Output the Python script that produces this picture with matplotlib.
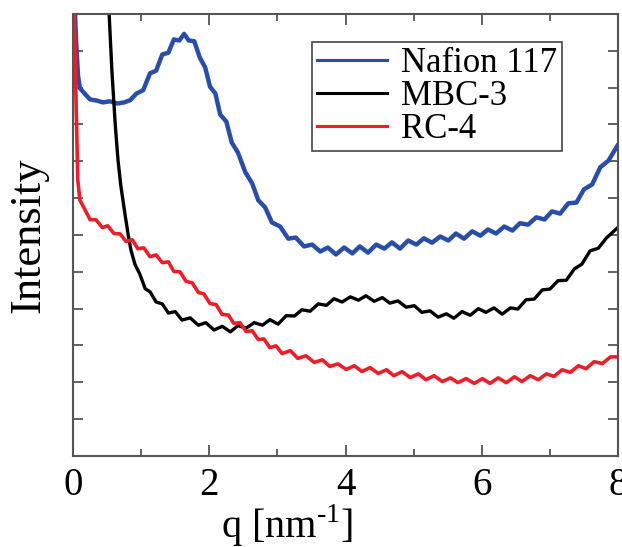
import numpy as np
import matplotlib
matplotlib.use("Agg")
import matplotlib.pyplot as plt
from matplotlib.ticker import MultipleLocator, NullFormatter

# SAXS profiles (arbitrary intensity units)
nafion_q = [0.02, 0.044, 0.073, 0.10, 0.18, 0.25, 0.35, 0.44, 0.54, 0.65, 0.75, 0.84, 0.93, 1.03,
            1.13, 1.22, 1.31, 1.40, 1.48, 1.56, 1.63, 1.70, 1.78, 1.86, 1.94, 2.01, 2.09, 2.16,
            2.25, 2.33, 2.42, 2.53, 2.63, 2.72, 2.82, 2.92, 3.04, 3.16, 3.27, 3.39, 3.51, 3.63,
            3.74, 3.86, 3.98, 4.10, 4.21, 4.33, 4.45, 4.57, 4.68, 4.80, 4.92, 5.04, 5.15, 5.27,
            5.39, 5.51, 5.62, 5.74, 5.86, 5.98, 6.09, 6.21, 6.33, 6.45, 6.56, 6.68, 6.80, 6.92,
            7.03, 7.15, 7.27, 7.39, 7.50, 7.62, 7.74, 7.86, 7.99]
nafion_i = [12.5, 11.3, 10.34, 9.99, 9.82, 9.68, 9.65, 9.60, 9.63, 9.57, 9.60, 9.66, 9.84, 9.93,
            10.39, 10.46, 10.90, 10.95, 11.31, 11.28, 11.46, 11.28, 11.26, 10.82, 10.55, 10.03,
            9.84, 9.27, 9.08, 8.51, 8.24, 7.70, 7.40, 6.94, 6.75, 6.34, 6.23, 5.90, 5.93, 5.69,
            5.74, 5.55, 5.66, 5.47, 5.66, 5.50, 5.69, 5.52, 5.74, 5.63, 5.80, 5.63, 5.85, 5.74,
            5.91, 5.79, 5.96, 5.85, 6.04, 5.90, 6.10, 5.98, 6.15, 6.04, 6.23, 6.12, 6.32, 6.28,
            6.48, 6.42, 6.64, 6.58, 6.86, 6.88, 7.24, 7.37, 7.84, 8.02, 8.42]

mbc_q = [0.51, 0.53, 0.57, 0.62, 0.66, 0.70, 0.76, 0.81, 0.85, 0.91, 0.98, 1.06, 1.13, 1.22,
         1.31, 1.40, 1.50, 1.60, 1.72, 1.84, 1.95, 2.07, 2.19, 2.31, 2.42, 2.54, 2.66, 2.78,
         2.89, 3.01, 3.13, 3.25, 3.36, 3.48, 3.60, 3.72, 3.83, 3.95, 4.07, 4.19, 4.30, 4.42,
         4.54, 4.65, 4.77, 4.89, 5.01, 5.12, 5.24, 5.36, 5.48, 5.59, 5.71, 5.83, 5.95, 6.06,
         6.18, 6.30, 6.42, 6.53, 6.65, 6.77, 6.89, 7.00, 7.12, 7.24, 7.36, 7.47, 7.59, 7.71,
         7.83, 7.99]
mbc_i = [12.5, 12.0, 10.48, 8.99, 8.04, 7.36, 6.60, 6.00, 5.59, 5.20, 4.94, 4.54, 4.46, 4.18,
         4.13, 3.88, 3.92, 3.69, 3.75, 3.55, 3.62, 3.42, 3.52, 3.37, 3.54, 3.47, 3.62, 3.55,
         3.70, 3.58, 3.81, 3.80, 3.97, 3.93, 4.13, 4.09, 4.27, 4.18, 4.32, 4.23, 4.35, 4.20,
         4.30, 4.15, 4.21, 4.04, 4.08, 3.90, 3.94, 3.77, 3.86, 3.74, 3.92, 3.82, 4.00, 3.90,
         4.02, 3.85, 4.02, 3.99, 4.24, 4.26, 4.51, 4.53, 4.76, 4.77, 5.08, 5.21, 5.57, 5.64,
         5.92, 6.19]

rc_q = [0.01, 0.03, 0.044, 0.06, 0.07, 0.10, 0.16, 0.25, 0.34, 0.43, 0.51, 0.60, 0.69, 0.78,
        0.87, 0.95, 1.04, 1.13, 1.22, 1.31, 1.40, 1.48, 1.57, 1.66, 1.75, 1.84, 1.92, 2.01,
        2.10, 2.19, 2.28, 2.36, 2.45, 2.54, 2.63, 2.72, 2.80, 2.89, 2.98, 3.07, 3.19, 3.30,
        3.42, 3.54, 3.66, 3.77, 3.89, 4.01, 4.13, 4.24, 4.36, 4.48, 4.60, 4.71, 4.83, 4.95,
        5.07, 5.18, 5.30, 5.42, 5.54, 5.65, 5.77, 5.89, 6.01, 6.12, 6.24, 6.36, 6.48, 6.59,
        6.71, 6.83, 6.95, 7.06, 7.18, 7.30, 7.42, 7.53, 7.65, 7.77, 7.89, 7.99]
rc_i = [12.5, 11.02, 9.67, 8.31, 7.49, 6.95, 6.74, 6.42, 6.41, 6.20, 6.25, 6.04, 6.03, 5.82,
        5.87, 5.63, 5.65, 5.41, 5.46, 5.25, 5.27, 5.01, 5.00, 4.74, 4.70, 4.44, 4.40, 4.14,
        4.11, 3.84, 3.83, 3.60, 3.62, 3.38, 3.40, 3.16, 3.18, 2.94, 2.99, 2.78, 2.86, 2.65,
        2.72, 2.54, 2.61, 2.43, 2.50, 2.35, 2.45, 2.29, 2.40, 2.24, 2.34, 2.18, 2.29, 2.13,
        2.23, 2.07, 2.18, 2.02, 2.12, 1.99, 2.10, 1.97, 2.10, 1.97, 2.12, 1.99, 2.15, 2.02,
        2.18, 2.07, 2.23, 2.16, 2.34, 2.27, 2.45, 2.37, 2.56, 2.51, 2.69, 2.69]

labels = ["Nafion 117", "MBC-3", "RC-4"]
colors = ["#2a4ea8", "#000000", "#e8202a"]

plt.rcParams['font.family'] = ['Liberation Serif', 'DejaVu Serif']
plt.rcParams['mathtext.fontset'] = 'custom'
plt.rcParams['mathtext.rm'] = 'Liberation Serif'

fig = plt.figure(figsize=(6.22, 5.47), dpi=100)
ax = fig.add_axes([0.1174, 0.1664, 0.8762, 0.808])

ax.plot(nafion_q, nafion_i, color=colors[0], lw=3.2, label=labels[0])
ax.plot(mbc_q, mbc_i, color=colors[1], lw=2.4, label=labels[1])
ax.plot(rc_q, rc_i, color=colors[2], lw=2.6, label=labels[2])

ax.set_xlim(0, 8)
ax.set_ylim(0, 12)
ax.xaxis.set_major_locator(MultipleLocator(2))
ax.xaxis.set_minor_locator(MultipleLocator(1))
ax.yaxis.set_major_locator(MultipleLocator(1))
ax.yaxis.set_major_formatter(NullFormatter())
ax.tick_params(which='both', direction='in', top=True, right=True, color='#555555', width=1.3)
ax.tick_params(which='major', axis='x', length=8, labelsize=28, pad=8)
ax.tick_params(which='minor', axis='x', length=5)
ax.tick_params(which='major', axis='y', length=7)
for s in ax.spines.values():
    s.set_color('#555555')
    s.set_linewidth(1.5)

ax.set_xlabel(r'q [nm$^{\text{-1}}$]', fontsize=29)
ax.xaxis.set_label_coords(0.393, -0.104)
ax.set_ylabel('Intensity', fontsize=32, labelpad=14)

leg = ax.legend(loc='upper left', bbox_to_anchor=(0.4385, 0.9367), borderaxespad=0,
                fontsize=25, handlelength=2.0, handletextpad=0.4, labelspacing=0.0,
                borderpad=0.15, fancybox=False, framealpha=1)
leg.get_frame().set_edgecolor('#444444')
leg.get_frame().set_linewidth(1.2)
for line in leg.get_lines():
    line.set_linewidth(2.2)

fig.savefig('out.png', dpi=100)
